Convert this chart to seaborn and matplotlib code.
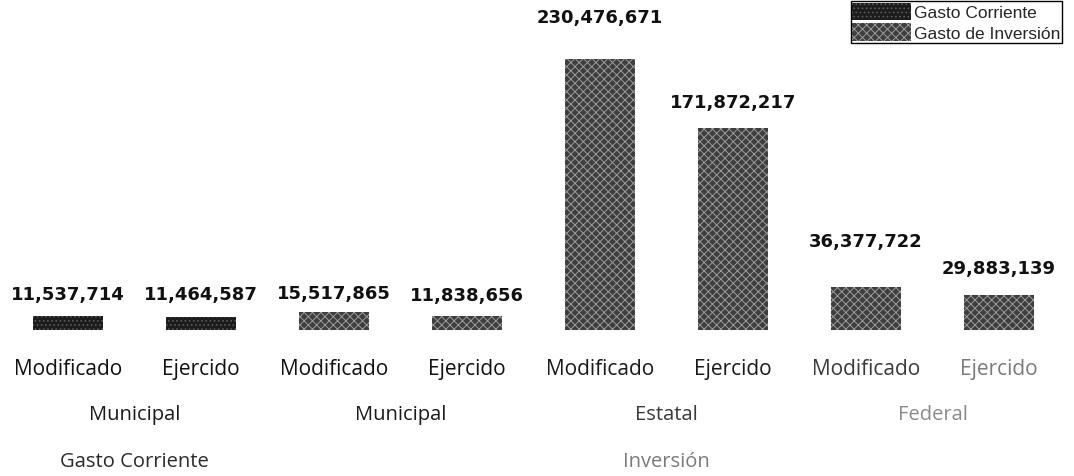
import matplotlib
matplotlib.use("Agg")
import matplotlib.pyplot as plt
import matplotlib.transforms as mtransforms
from matplotlib.patches import Patch
import pandas as pd
import seaborn as sns

##
# datos del presupuesto
claves = ["m1", "e1", "m2", "e2", "m3", "e3", "m4", "e4"]
etapa = ["Modificado", "Ejercido", "Modificado", "Ejercido",
         "Modificado", "Ejercido", "Modificado", "Ejercido"]
fuente = ["Municipal", "Municipal", "Estatal", "Federal"]
tipo = ["Gasto Corriente", "Gasto Corriente", "Gasto de Inversión", "Gasto de Inversión",
        "Gasto de Inversión", "Gasto de Inversión", "Gasto de Inversión", "Gasto de Inversión"]
grupos = ["Gasto Corriente", "Inversión"]
montos = [11537714, 11464587, 15517865, 11838656, 230476671, 171872217, 36377722, 29883139]

df = pd.DataFrame({"clave": claves, "etapa": etapa, "tipo": tipo, "monto": montos})

##
sns.set_style("white")
plt.rcParams['font.family'] = ['DejaVu Sans']
plt.rcParams['hatch.linewidth'] = 0.7

colores = {"Gasto Corriente": "#1c1c1c", "Gasto de Inversión": "#3e3e3e"}
tramas = {"Gasto Corriente": "....", "Gasto de Inversión": "xxxx"}
color_trama = {"Gasto Corriente": "#5a5a5a", "Gasto de Inversión": "#9a9a9a"}
fuente_eje = ["Open Sans", "DejaVu Sans"]

fig = plt.figure(figsize=(10.74, 4.77), dpi=100)
ax = fig.add_axes([0.0, 0.306, 1.0, 0.674])

sns.barplot(data=df, x="clave", y="monto", hue="tipo", palette=colores,
            dodge=False, width=0.52, legend=False, ax=ax, linewidth=0)

for barra, t in zip(ax.patches, tipo):
    barra.set_hatch(tramas[t])
    barra.set_edgecolor(color_trama[t])
    barra.set_linewidth(0)

ax.set_xlim(-0.511, 7.564)
ax.set_ylim(0, 273.4e6)
sns.despine(ax=ax, left=True, bottom=True)
ax.set_yticks([])
ax.set_xlabel("")
ax.set_ylabel("")

# etiquetas de valores
separacion = [10, 10, 7, 9, 24, 12, 27, 13]
for barra, v, sep in zip(ax.patches, montos, separacion):
    ax.annotate(f"{v:,}", (barra.get_x() + barra.get_width() / 2, barra.get_height()),
                xytext=(0, sep), textcoords="offset points", ha="center", va="bottom",
                fontsize=13, fontweight="bold", color="#111111")

# etiquetas del eje x
ax.set_xticks(range(len(etapa)))
ax.set_xticklabels(etapa, fontsize=15, family=fuente_eje, fontweight="normal")
color_ticks = ["#111111", "#111111", "#111111", "#111111", "#1a1a1a", "#1a1a1a", "#3a3a3a", "#7a7a7a"]
for lbl, c in zip(ax.get_xticklabels(), color_ticks):
    lbl.set_color(c)
ax.tick_params(axis="x", length=0, pad=20)

trans = mtransforms.blended_transform_factory(ax.transData, ax.transAxes)
color_fuente = ["#1a1a1a", "#1a1a1a", "#3a3a3a", "#8a8a8a"]
for i, (f, c) in enumerate(zip(fuente, color_fuente)):
    ax.text(2 * i + 0.5, -0.261, f, transform=trans, ha="center", va="center",
            fontsize=14.5, family=fuente_eje, fontweight="normal", color=c)

ax.text(0.5, -0.407, grupos[0], transform=trans, ha="center", va="center",
        fontsize=14.5, family=fuente_eje, fontweight="normal", color="#2a2a2a")
ax.text(4.5, -0.407, grupos[1], transform=trans, ha="center", va="center",
        fontsize=14.5, family=fuente_eje, fontweight="normal", color="#7a7a7a")

# leyenda
handles = [Patch(facecolor=colores[t], hatch=tramas[t], edgecolor=color_trama[t], linewidth=0)
           for t in ["Gasto Corriente", "Gasto de Inversión"]]
leg = fig.legend(handles, ["Gasto Corriente", "Gasto de Inversión"], loc="upper right",
                 bbox_to_anchor=(0.989, 0.996), frameon=True, fancybox=False, framealpha=1,
                 edgecolor="black", prop={"family": "Liberation Sans", "size": 12.5},
                 handlelength=3.4, handleheight=1.2, handletextpad=0.15,
                 borderpad=0.1, labelspacing=0.15, borderaxespad=0)
leg.get_frame().set_linewidth(1.0)

fig.savefig("out.png", dpi=100)
